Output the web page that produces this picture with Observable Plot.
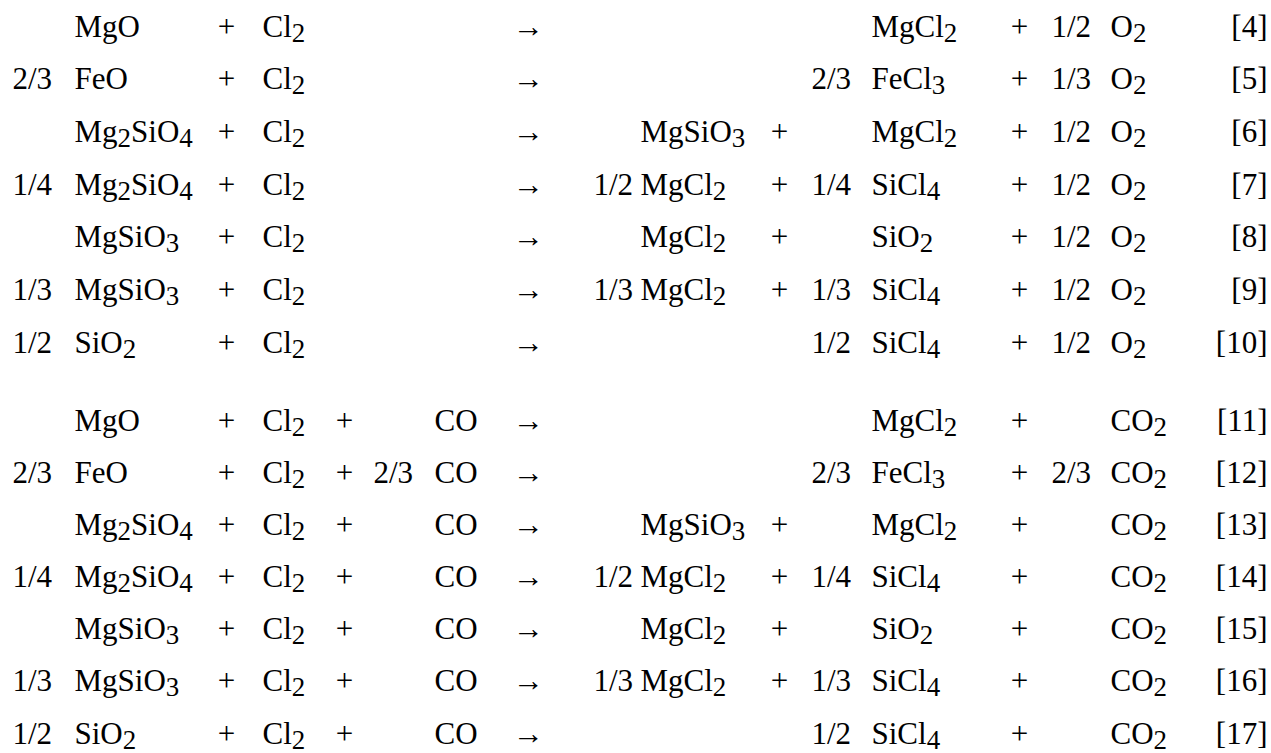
<!DOCTYPE html>
<html>
<head>
<meta charset="utf-8">
<script src="https://cdn.jsdelivr.net/npm/d3@7"></script>
<script src="https://cdn.jsdelivr.net/npm/@observablehq/plot@0.6"></script>
<style>
  html, body { margin: 0; padding: 0; background: #fff; }
</style>
</head>
<body>
<div id="chart"></div>
<script>
// ---- Data: one entry per reaction, equations [4]–[17] ----
const eqNumbers      = [4, 5, 6, 7, 8, 9, 10, 11, 12, 13, 14, 15, 16, 17];
const reactantCoef   = ["", "2/3", "", "1/4", "", "1/3", "1/2", "", "2/3", "", "1/4", "", "1/3", "1/2"];
const reactant       = ["MgO", "FeO", "Mg2SiO4", "Mg2SiO4", "MgSiO3", "MgSiO3", "SiO2",
                        "MgO", "FeO", "Mg2SiO4", "Mg2SiO4", "MgSiO3", "MgSiO3", "SiO2"];
const chlorine       = ["Cl2", "Cl2", "Cl2", "Cl2", "Cl2", "Cl2", "Cl2",
                        "Cl2", "Cl2", "Cl2", "Cl2", "Cl2", "Cl2", "Cl2"];
const coCoef         = ["", "", "", "", "", "", "", "", "2/3", "", "", "", "", ""];
const coReactant     = ["", "", "", "", "", "", "", "CO", "CO", "CO", "CO", "CO", "CO", "CO"];
const product1Coef   = ["", "", "", "1/2", "", "1/3", "", "", "", "", "1/2", "", "1/3", ""];
const product1       = ["", "", "MgSiO3", "MgCl2", "MgCl2", "MgCl2", "",
                        "", "", "MgSiO3", "MgCl2", "MgCl2", "MgCl2", ""];
const product2Coef   = ["", "2/3", "", "1/4", "", "1/3", "1/2", "", "2/3", "", "1/4", "", "1/3", "1/2"];
const product2       = ["MgCl2", "FeCl3", "MgCl2", "SiCl4", "SiO2", "SiCl4", "SiCl4",
                        "MgCl2", "FeCl3", "MgCl2", "SiCl4", "SiO2", "SiCl4", "SiCl4"];
const product3Coef   = ["1/2", "1/3", "1/2", "1/2", "1/2", "1/2", "1/2", "", "2/3", "", "", "", "", ""];
const product3       = ["O2", "O2", "O2", "O2", "O2", "O2", "O2",
                        "CO2", "CO2", "CO2", "CO2", "CO2", "CO2", "CO2"];

// ---- Column layout (scale options) ----
const columnKeys = ["c1", "r1", "p1", "r2", "p2", "c3", "r3", "arrow", "c4", "q1", "p3", "c5", "q2", "p4", "c6", "q3", "label"];
const columnPx   = [12, 74, 226, 262, 344, 373, 434, 528, 593, 640, 779, 811, 871, 1019, 1051, 1110, 1267];
const col = k => columnKeys.indexOf(k);

// ---- Build the cell table ----
const startCells = [];   // left-aligned text (coefficients & formulas)
const midCells = [];     // centred symbols (+ and →)
const labelCells = [];   // right-aligned equation numbers
eqNumbers.forEach((eq, i) => {
  const add = (arr, k, t) => { if (t) arr.push({eq, c: col(k), text: t}); };
  add(startCells, "c1", reactantCoef[i]);
  add(startCells, "r1", reactant[i]);
  add(midCells, "p1", "+");
  add(startCells, "r2", chlorine[i]);
  if (coReactant[i]) add(midCells, "p2", "+");
  add(startCells, "c3", coCoef[i]);
  add(startCells, "r3", coReactant[i]);
  add(midCells, "arrow", "→");
  add(startCells, "c4", product1Coef[i]);
  add(startCells, "q1", product1[i]);
  if (product1[i]) add(midCells, "p3", "+");
  add(startCells, "c5", product2Coef[i]);
  add(startCells, "q2", product2[i]);
  add(midCells, "p4", "+");
  add(startCells, "c6", product3Coef[i]);
  add(startCells, "q3", product3[i]);
  add(labelCells, "label", `[${eq}]`);
});

const font = "Liberation Serif";
const fs = 31;
const common = {x: "c", y: "eq", text: "text", fontSize: fs, fontFamily: font, fill: "black", lineAnchor: "bottom"};

const plot = Plot.plot({
  width: 1271,
  height: 753,
  margin: 0,
  style: {fontFamily: font, background: "white", color: "black"},
  x: {type: "linear", domain: d3.range(columnKeys.length), range: columnPx, axis: null},
  y: {type: "linear", domain: [4, 10, 11, 17], range: [36, 352, 430, 743], axis: null},
  marks: [
    Plot.text(startCells, {...common, textAnchor: "start"}),
    Plot.text(midCells, {...common, textAnchor: "middle"}),
    Plot.text(labelCells, {...common, textAnchor: "end"})
  ]
});

// Chemical subscripts: digits following a letter become lowered, smaller tspans
d3.select(plot).selectAll("text").each(function() {
  const s = this.textContent;
  if (!/[A-Za-z]\d/.test(s)) return;
  const parts = s.split(/(\d+)/).filter(p => p !== "");
  this.textContent = "";
  const shift = 5;
  let lowered = false;
  parts.forEach((p, j) => {
    const isSub = /^\d+$/.test(p) && j > 0;
    const ts = d3.select(this).append("tspan").text(p);
    if (isSub && !lowered) { ts.attr("dy", shift).attr("font-size", fs * 0.87); lowered = true; }
    else if (isSub) { ts.attr("font-size", fs * 0.87); }
    else if (lowered) { ts.attr("dy", -shift); lowered = false; }
  });
});

document.getElementById("chart").appendChild(plot);
</script>
</body>
</html>
